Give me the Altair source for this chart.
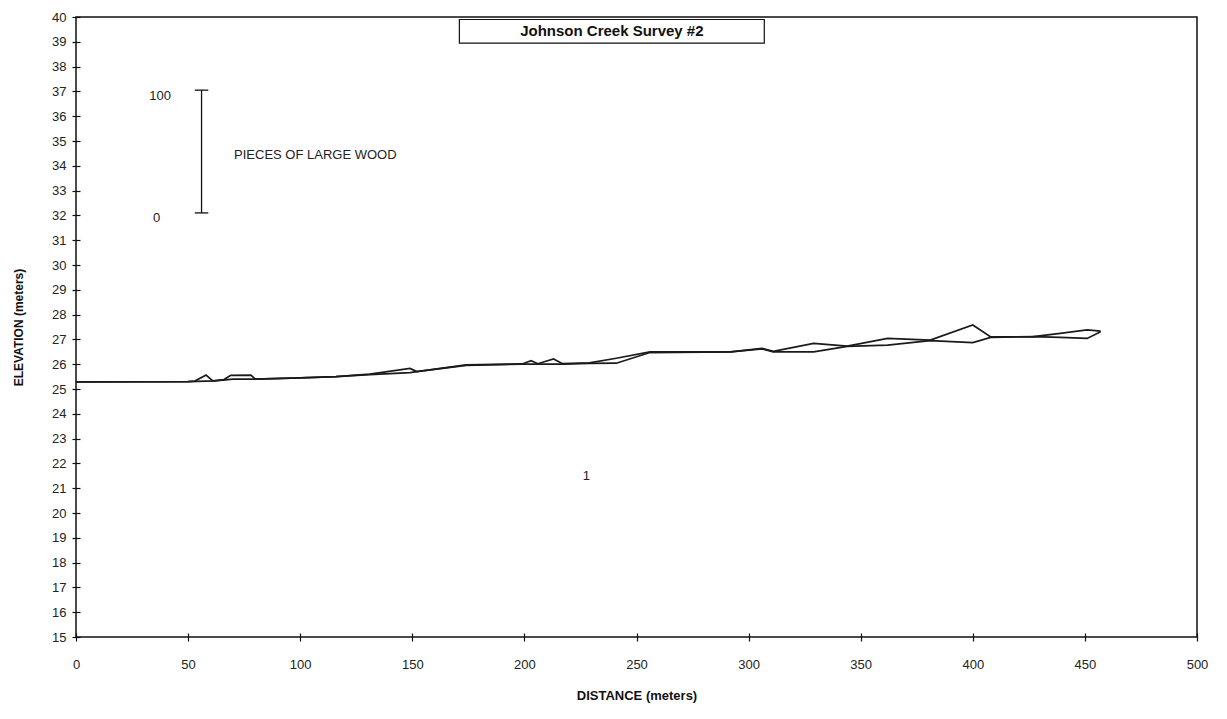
import altair as alt
import pandas as pd

# Series A (profile with local spikes)
dist_a = [0, 50, 53, 58, 61, 66, 69, 78, 80, 100, 116, 131, 149, 152, 174, 199, 203, 206,
          213, 217, 229, 241, 256, 292, 306, 311, 329, 344, 362, 381, 400, 408, 427, 439, 451, 457]
elev_a = [25.29, 25.30, 25.32, 25.56, 25.33, 25.38, 25.55, 25.56, 25.40, 25.45, 25.50, 25.60,
          25.83, 25.70, 25.97, 26.01, 26.14, 26.02, 26.21, 26.02, 26.05, 26.24, 26.50, 26.50,
          26.64, 26.52, 26.84, 26.73, 27.04, 26.97, 27.58, 27.10, 27.11, 27.24, 27.38, 27.33]
# Series B (smoother profile)
dist_b = [0, 50, 62, 70, 80, 100, 116, 131, 149, 152, 174, 199, 217, 229, 241, 256, 292,
          306, 311, 329, 344, 362, 381, 400, 408, 427, 439, 451, 457]
elev_b = [25.29, 25.30, 25.33, 25.40, 25.40, 25.45, 25.50, 25.58, 25.66, 25.70, 25.95, 26.00,
          26.00, 26.03, 26.04, 26.47, 26.50, 26.62, 26.50, 26.50, 26.72, 26.77, 26.95, 26.87,
          27.08, 27.11, 27.08, 27.04, 27.31]

y_ticks = list(range(15, 41))
x_ticks = list(range(0, 501, 50))

title_text = ["Johnson Creek Survey #2"]
title_box = {"dist": [171], "dist2": [307], "elev": [39.9], "elev2": [38.95]}
bar_label_text = ["100", "0"]
bar_label_dist = [37.5, 36]
bar_label_elev = [36.8, 31.9]
scale_bar = {"dist": [56, 53, 53], "dist2": [56, 59, 59], "elev": [32.1, 37.05, 32.1], "elev2": [37.05, 37.05, 32.1]}
note_text = ["PIECES OF LARGE WOOD", "1"]
note_dist = [70.5, 226]
note_elev = [34.45, 21.5]

FONT = "Liberation Sans"

rows = [{"dist": d, "elev": e, "series": "A"} for d, e in zip(dist_a, elev_a)]
rows += [{"dist": d, "elev": e, "series": "B"} for d, e in zip(dist_b, elev_b)]
df = pd.DataFrame(rows)

xs = alt.Scale(domain=[0, 500], nice=False, zero=False)
ys = alt.Scale(domain=[15, 40], nice=False, zero=False)

x_axis = alt.Axis(
    values=x_ticks, title="DISTANCE (meters)", tickSize=8, offset=-4, domain=False,
    grid=False, labelPadding=17, labelFontSize=13, labelFont=FONT, labelColor="#222",
    labelFlush=False, labelOverlap=False,
    tickColor="#111", tickWidth=1.2, titleFont=FONT, titleFontSize=13, titleFontWeight="bold",
    titlePadding=18, titleColor="#111")
y_axis = alt.Axis(
    values=y_ticks, title="ELEVATION (meters)", tickSize=8, offset=-4, domain=False,
    grid=False, labelPadding=6, labelFontSize=13, labelFont=FONT, labelColor="#222",
    labelFlush=False, labelOverlap=False,
    tickColor="#111", tickWidth=1.2, titleFont=FONT, titleFontSize=12, titleFontWeight="bold",
    titlePadding=26, titleColor="#111")


def X():
    return alt.X("dist:Q", scale=xs, axis=x_axis, title="DISTANCE (meters)")


def Y():
    return alt.Y("elev:Q", scale=ys, axis=y_axis, title="ELEVATION (meters)")


lines = alt.Chart(df).mark_line(color="#1a1a1a", strokeWidth=1.7).encode(
    x=X(), y=Y(), detail="series:N")

box = alt.Chart(pd.DataFrame(title_box)).mark_rect(fill="white", stroke="#111", strokeWidth=1.2).encode(
    x=X(), x2="dist2:Q", y=Y(), y2="elev2:Q")

title_df = pd.DataFrame({"t": title_text, "dist": [(title_box["dist"][0] + title_box["dist2"][0]) / 2],
                         "elev": [(title_box["elev"][0] + title_box["elev2"][0]) / 2]})
title_mark = alt.Chart(title_df).mark_text(font=FONT, fontSize=15, fontWeight="bold", color="#111",
                                           baseline="middle", align="center").encode(
    x=X(), y=Y(), text="t:N")

bar = alt.Chart(pd.DataFrame(scale_bar)).mark_rule(color="#111", strokeWidth=1.3).encode(
    x=X(), x2="dist2:Q", y=Y(), y2="elev2:Q")

bar_labels = alt.Chart(pd.DataFrame({"t": bar_label_text, "dist": bar_label_dist, "elev": bar_label_elev})).mark_text(
    font=FONT, fontSize=13, color="#222", align="center", baseline="middle").encode(
    x=X(), y=Y(), text="t:N")

notes = alt.Chart(pd.DataFrame({"t": note_text, "dist": note_dist, "elev": note_elev})).mark_text(
    font=FONT, fontSize=13, color="#222", align="left", baseline="middle").encode(
    x=X(), y=Y(), text="t:N")

chart = alt.layer(lines, box, title_mark, bar, bar_labels, notes).properties(
    width=1121, height=620,
    autosize=alt.AutoSizeParams(type="none"),
    padding={"left": 68, "top": 9, "right": 18, "bottom": 70},
    background="white",
).configure_view(stroke="#111", strokeWidth=1.5)

chart.save("out.html", embed_options={"renderer": "svg", "actions": False})
